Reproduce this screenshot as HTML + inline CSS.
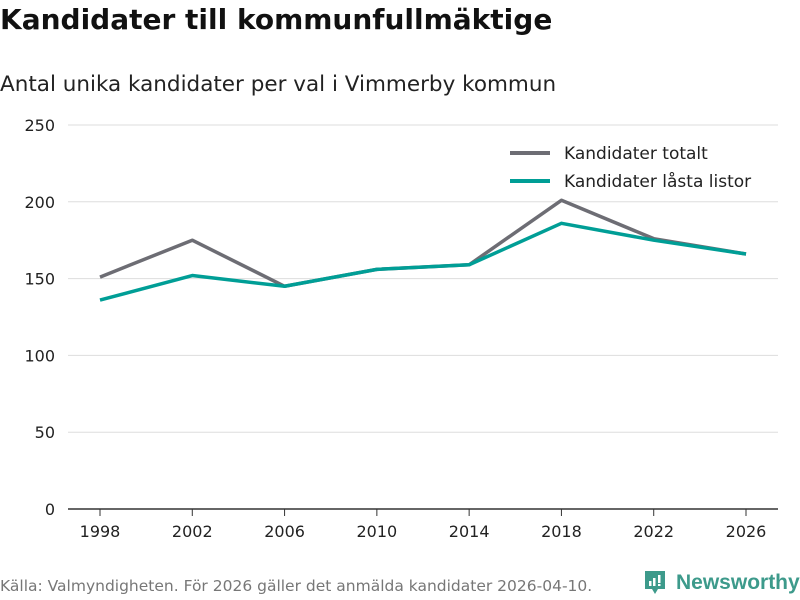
<!DOCTYPE html>
<html><head><meta charset="utf-8"><style>
body{margin:0;width:800px;height:600px;background:#fff;font-family:"DejaVu Sans","Liberation Sans",sans-serif;overflow:hidden;position:relative}
</style></head><body>
<div style="position:absolute;left:0;top:3px;font-size:28px;font-weight:bold;color:#111">Kandidater till kommunfullmäktige</div>
<div style="position:absolute;left:0;top:72px;font-size:21.5px;color:#222">Antal unika kandidater per val i Vimmerby kommun</div>
<svg id="c" width="800" height="600" style="position:absolute;left:0;top:0"></svg>
<div style="position:absolute;left:0;top:577px;font-size:15.5px;color:#777">Källa: Valmyndigheten. För 2026 gäller det anmälda kandidater 2026-04-10.</div>
<div style="position:absolute;left:643px;top:569px;height:28px;display:flex;align-items:center">
<svg width="24" height="28" viewBox="0 0 24 28"><path d="M2 2h20v18h-7l-3 5-3-5H2z" fill="#3d9a8b"/><rect x="6" y="12" width="2.5" height="5" fill="#fff"/><rect x="10" y="9" width="2.5" height="8" fill="#fff"/><rect x="15" y="6" width="2.5" height="8" fill="#fff"/><rect x="15" y="15" width="2.5" height="2" fill="#fff"/></svg>
<span style="font-family:'Liberation Sans',sans-serif;font-size:21px;font-weight:bold;color:#3d9a8b;margin-left:9px">Newsworthy</span></div>
<script>
const years=[1998,2002,2006,2010,2014,2018,2022,2026];
const totalt=[151,175,145,156,159,201,176,166];
const lasta=[136,152,145,156,159,186,175,166];
const yTicks=[0,50,100,150,200,250];
const ns="http://www.w3.org/2000/svg",svg=document.getElementById('c');
const x=v=>100+(v-1998)*(646/28), y=v=>509-v*1.536;
function mk(t,a,p){const e=document.createElementNS(ns,t);for(const k in a)e.setAttribute(k,a[k]);(p||svg).appendChild(e);return e;}
yTicks.forEach(t=>{
 const l=mk('line',{x1:68,x2:778,y1:y(t),y2:y(t),stroke:t?'#ddd':'#333','stroke-width':t?1:1.5});
 
 
 const tx=mk('text',{x:55,y:y(t)+6,'text-anchor':'end','font-size':16,fill:'#222'});tx.textContent=t;
 
 
});
years.forEach(yr=>{
 mk('line',{x1:x(yr),x2:x(yr),y1:509,y2:516,stroke:'#333'});
 const tx=mk('text',{x:x(yr),y:537,'text-anchor':'middle','font-size':16,fill:'#222'});tx.textContent=yr;
 
 
});
function line(d,c,n){const p=mk('polyline',{points:d.map((v,i)=>x(years[i])+','+y(v)).join(' '),fill:'none',stroke:c,'stroke-width':3.5,'stroke-linejoin':'round'});
 
 }
line(totalt,'#6d6d74','line-kandidater-totalt');
line(lasta,'#009e96','line-kandidater-lasta-listor');
[['Kandidater totalt','#6d6d74',153],['Kandidater låsta listor','#009e96',181]].forEach(([t,c,yy])=>{
 const g=mk('g',{});
 
 
 mk('line',{x1:510,x2:550,y1:yy,y2:yy,stroke:c,'stroke-width':4},g);
 const tx=mk('text',{x:564,y:yy+6,'font-size':17,fill:'#222'},g);tx.textContent=t;
});
</script>
</body></html>
